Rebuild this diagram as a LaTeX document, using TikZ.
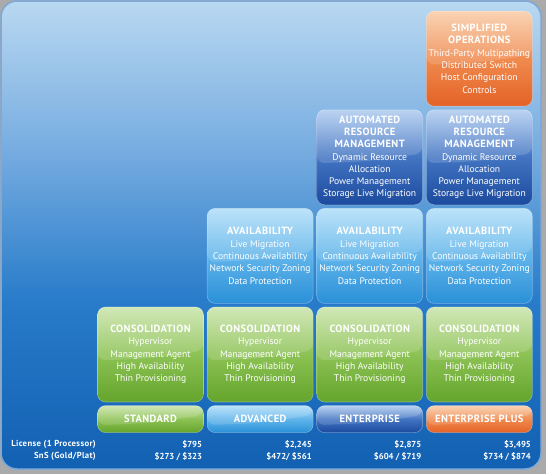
\documentclass[tikz,border=0pt]{standalone}
\usepackage{fontspec}
\setmainfont{PT Sans}
\newfontfamily\titlefont[LetterSpace = 4]{PT Sans}
\usetikzlibrary{positioning}

\definecolor{outside}{RGB}{170,170,170}
\definecolor{paneltop}{RGB}{185,216,241}
\definecolor{panelmid}{RGB}{118,172,224}
\definecolor{panellow}{RGB}{40,124,202}
\definecolor{panelbot}{RGB}{18,96,178}
\definecolor{panelrim}{RGB}{125,168,218}
\definecolor{greentop}{RGB}{202,228,170}
\definecolor{greenmid}{RGB}{140,194,84}
\definecolor{greenbot}{RGB}{100,164,44}
\definecolor{skytop}{RGB}{176,222,249}
\definecolor{skymid}{RGB}{96,180,234}
\definecolor{skybot}{RGB}{42,144,216}
\definecolor{navytop}{RGB}{176,204,240}
\definecolor{navymid}{RGB}{66,116,194}
\definecolor{navybot}{RGB}{28,74,158}
\definecolor{orangetop}{RGB}{249,204,166}
\definecolor{orangemid}{RGB}{240,138,78}
\definecolor{orangebot}{RGB}{228,98,38}

\pgfdeclareverticalshading{panelshade}{100bp}{color(0bp)=(panelbot); color(25bp)=(panelbot); color(43bp)=(panellow); color(59bp)=(panelmid); color(75bp)=(paneltop); color(100bp)=(paneltop)}

\newcommand{\ttl}[1]{{\titlefont\bfseries\fontsize{10.5}{12.3}\selectfont #1}}

\tikzset{gloss/.style = {path picture = {\fill [white, opacity = 0.15]
            (path picture bounding box.north west) -- (path picture bounding box.north east)
            -- ([yshift = 4pt]path picture bounding box.east)
            .. controls ([yshift = -4pt]path picture bounding box.center) ..
            ([yshift = -6pt]path picture bounding box.west) -- cycle;}}}
\tikzset{tier/.style = {rounded corners = 8, minimum width = 106, minimum height = 95,
                        inner sep = 0, align = center, text = white, gloss,
                        draw = white, draw opacity = 0.35, line width = 0.6,
                        font = \fontsize{9.6}{12.3}\selectfont}}
\tikzset{edition/.style = {rounded corners = 8, minimum width = 106, minimum height = 27,
                           inner sep = 0, text = white, gloss,
                           draw = white, draw opacity = 0.35, line width = 0.6,
                           font = \titlefont\bfseries\fontsize{10.5}{12}\selectfont}}
\tikzset{greentier/.style = {top color = greentop, bottom color = greenbot, middle color = greenmid}}
\tikzset{skytier/.style = {top color = skytop, bottom color = skybot, middle color = skymid}}
\tikzset{navytier/.style = {top color = navytop, bottom color = navybot, middle color = navymid}}
\tikzset{orangetier/.style = {top color = orangetop, bottom color = orangebot, middle color = orangemid}}
\tikzset{price/.style = {inner sep = 0, text = white, font = \bfseries\fontsize{8.7}{10}\selectfont}}
\tikzset{rowlabel/.style = {price, anchor = east, font = \titlefont\bfseries\fontsize{8.7}{10}\selectfont}}

\begin{document}
\begin{tikzpicture}[x = 1pt, y = -1pt, node distance = 3pt]
  \useasboundingbox (0, 0) rectangle (546, 474);
  \fill [outside] (0, 0) rectangle (546, 474);
  \path [shading = panelshade, rounded corners = 16] (1, 1) rectangle (541, 469);
  \draw [panelrim, line width = 1.5, rounded corners = 16] (1, 1) rectangle (541, 469);

  % bottom row
  \node [tier, greentier] (cons1) at (150.5, 354.5)
    {\ttl{CONSOLIDATION}\\Hypervisor\\Management Agent\\High Availability\\Thin Provisioning};
  \node [tier, greentier, right = of cons1] (cons2)
    {\ttl{CONSOLIDATION}\\Hypervisor\\Management Agent\\High Availability\\Thin Provisioning};
  \node [tier, greentier, right = of cons2] (cons3)
    {\ttl{CONSOLIDATION}\\Hypervisor\\Management Agent\\High Availability\\Thin Provisioning};
  \node [tier, greentier, right = of cons3] (cons4)
    {\ttl{CONSOLIDATION}\\Hypervisor\\Management Agent\\High Availability\\Thin Provisioning};

  \node [tier, skytier, above = of cons2] (avail2)
    {\ttl{AVAILABILITY}\\Live Migration\\Continuous Availability\\Network Security Zoning\\Data Protection};
  \node [tier, skytier, above = of cons3] (avail3)
    {\ttl{AVAILABILITY}\\Live Migration\\Continuous Availability\\Network Security Zoning\\Data Protection};
  \node [tier, skytier, above = of cons4] (avail4)
    {\ttl{AVAILABILITY}\\Live Migration\\Continuous Availability\\Network Security Zoning\\Data Protection};

  \node [tier, navytier, above = of avail3] (auto3)
    {\ttl{AUTOMATED}\\\ttl{RESOURCE}\\\ttl{MANAGEMENT}\\Dynamic Resource\\Allocation\\Power Management\\Storage Live Migration};
  \node [tier, navytier, above = of avail4] (auto4)
    {\ttl{AUTOMATED}\\\ttl{RESOURCE}\\\ttl{MANAGEMENT}\\Dynamic Resource\\Allocation\\Power Management\\Storage Live Migration};

  \node [tier, orangetier, above = of auto4] (simp4)
    {\ttl{SIMPLIFIED}\\\ttl{OPERATIONS}\\Third-Party Multipathing\\Distributed Switch\\Host Configuration\\Controls};

  % editions
  \node [edition, greentier, below = of cons1] (std) {STANDARD};
  \node [edition, skytier, below = of cons2] (adv) {ADVANCED};
  \node [edition, navytier, below = of cons3] (ent) {ENTERPRISE};
  \node [edition, orangetier, below = of cons4] (entplus) {ENTERPRISE PLUS};

  % prices
  \node [rowlabel] (license) at (96, 444) {License (1 Processor)};
  \node [rowlabel] (sns) at (96, 456) {SnS (Gold/Plat)};
  \node [price, anchor = east] (lic1) at ([xshift = -1.5pt, yshift = -12pt]std.south east) {\$795};
  \node [price, anchor = east] (lic2) at ([xshift = -1.5pt, yshift = -12pt]adv.south east) {\$2,245};
  \node [price, anchor = east] (lic3) at ([xshift = -1.5pt, yshift = -12pt]ent.south east) {\$2,875};
  \node [price, anchor = east] (lic4) at ([xshift = -1.5pt, yshift = -12pt]entplus.south east) {\$3,495};
  \node [price, anchor = east] (sns1) at ([xshift = -1.5pt, yshift = -24pt]std.south east) {\$273 / \$323};
  \node [price, anchor = east] (sns2) at ([xshift = -1.5pt, yshift = -24pt]adv.south east) {\$472/ \$561};
  \node [price, anchor = east] (sns3) at ([xshift = -1.5pt, yshift = -24pt]ent.south east) {\$604 / \$719};
  \node [price, anchor = east] (sns4) at ([xshift = -1.5pt, yshift = -24pt]entplus.south east) {\$734 / \$874};
\end{tikzpicture}
\end{document}
